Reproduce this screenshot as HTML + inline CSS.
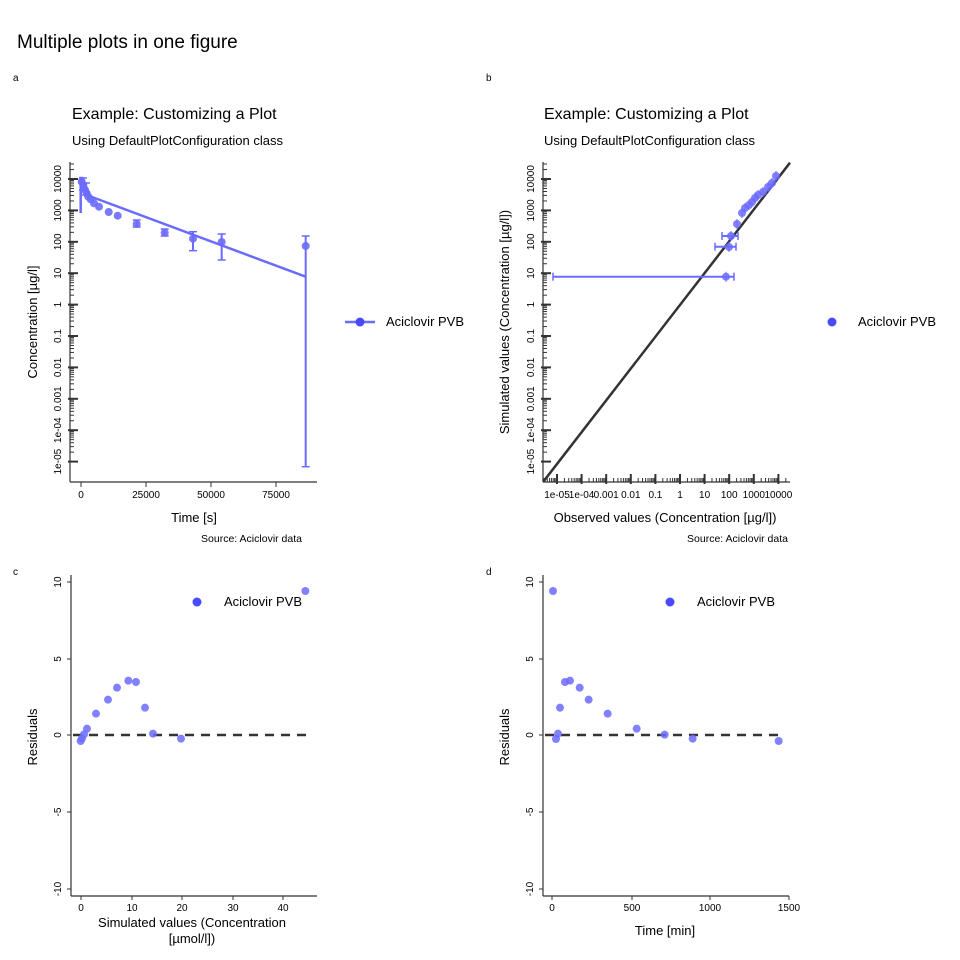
<!DOCTYPE html>
<html><head><meta charset="utf-8"><style>
body{margin:0;background:#fff}
svg{display:block;font-family:"Liberation Sans",sans-serif}
</style></head><body>
<svg id="s" width="960" height="960" xmlns="http://www.w3.org/2000/svg">
<text x="17" y="48" font-size="19">Multiple plots in one figure</text>
<text x="13" y="81" font-size="10">a</text>
<text x="486" y="81" font-size="10">b</text>
<text x="13" y="575" font-size="10">c</text>
<text x="486" y="575" font-size="10">d</text>
<text x="72" y="119" font-size="16">Example: Customizing a Plot</text>
<text x="72" y="145" font-size="13">Using DefaultPlotConfiguration class</text>
<text x="544" y="119" font-size="16">Example: Customizing a Plot</text>
<text x="544" y="145" font-size="13">Using DefaultPlotConfiguration class</text>
<text x="194" y="522" font-size="13" text-anchor="middle">Time [s]</text>
<text x="302" y="542" font-size="10.5" text-anchor="end">Source: Aciclovir data</text>
<text x="665" y="522" font-size="13" text-anchor="middle">Observed values (Concentration [µg/l])</text>
<text x="788" y="542" font-size="10.5" text-anchor="end">Source: Aciclovir data</text>
<text transform="translate(37,322) rotate(-90)" font-size="13" text-anchor="middle">Concentration [µg/l]</text>
<text transform="translate(509,322) rotate(-90)" font-size="13" text-anchor="middle">Simulated values (Concentration [µg/l])</text>
<text transform="translate(37,737) rotate(-90)" font-size="13" text-anchor="middle">Residuals</text>
<text transform="translate(509,737) rotate(-90)" font-size="13" text-anchor="middle">Residuals</text>
<text x="192" y="927" font-size="13" text-anchor="middle">Simulated values (Concentration</text>
<text x="192" y="943" font-size="13" text-anchor="middle">[µmol/l])</text>
<text x="665" y="935" font-size="13" text-anchor="middle">Time [min]</text>
<g id="g"></g>
</svg>
<script>
const g=document.getElementById('g');let h='';
const C='#6b6bff',K='#333';
function L(x1,y1,x2,y2,c,w,e){h+=`<line x1="${x1}" y1="${y1}" x2="${x2}" y2="${y2}" stroke="${c}" stroke-width="${w}" ${e||''}/>`;}
function T(x,y,s,a,r,fs){fs=fs||10;if(r)h+=`<text transform="translate(${x},${y}) rotate(-90)" font-size="${fs}" text-anchor="middle">${s}</text>`;else h+=`<text x="${x}" y="${y}" font-size="${fs}" text-anchor="${a||'middle'}">${s}</text>`;}
function D(x,y,r,c,o){h+=`<circle cx="${x}" cy="${y}" r="${r||4.5}" fill="${c||C}" opacity="${o||0.85}"/>`;}
const ylab=['10000','1000','100','10','1','0.1','0.01','0.001','1e-04','1e-05'];
function logY(ax,ybase){
 L(ax,162,ax,482,K,1.2);
 for(let d=-1;d<10;d++){let y0=ybase+d*31.4;
  if(d>=0){L(ax-2,y0,ax+8,y0,K,2);T(ax-9,y0,ylab[d],0,1,10);}
  for(let k=2;k<10;k++){let y=y0-Math.log10(k)*31.4;if(y>162&&y<481)L(ax,y,ax+4,y,K,1);}
 }
}
logY(70,179);
L(70,482,317,482,K,1.2);
[[81,'0'],[146,'25000'],[211,'50000'],[276,'75000']].forEach(t=>{L(t[0],482,t[0],487,K,1);T(t[0],498,t[1],0,0,10);});
h+=`<polyline points="80.7,213 80.7,178 82.3,178 90,196 92,197 305.7,276.7" fill="none" stroke="${C}" stroke-width="2.5"/>`;
[[193,231.7,250.7],[221.7,234,260],[305.7,236,466.7],[136.7,220,227],[164.7,229,236],[83,178,190],[86,183,195]].forEach(e=>{L(e[0],e[1],e[0],e[2],C,2);L(e[0]-4,e[1],e[0]+4,e[1],C,1.5);L(e[0]-4,e[2],e[0]+4,e[2],C,1.5);});
[[81.7,181.7],[83.3,185],[85,190],[86.7,193.3],[88.3,196.7],[90.7,199.3],[94,203.3],[99,206.7],[108.7,212],[117.7,215.7],[136.7,224],[164.7,232.7],[193,238.7],[221.7,242],[305.7,246]].forEach(p=>D(p[0],p[1],4,C,0.9));
L(345,322,375,322,C,2.5);D(360,322,4.5,'#4a4aff',1);T(386,326,'Aciclovir PVB','start',0,13);
logY(543,179);
L(543,482,790,482,K,1.2);
const xl=['1e-05','1e-04','0.001','0.01','0.1','1','10','100','1000','10000'];
for(let d=-1;d<10;d++){let x0=557+d*24.6;
 if(d>=0){L(x0,484,x0,474,K,2);T(x0,498,xl[d],0,0,10);}
 for(let k=2;k<10;k++){let x=x0+Math.log10(k)*24.6;if(x>543&&x<789)L(x,482,x,478,K,1);}
}
L(543.3,481.7,790,162.7,K,2.5);
[[276.7,553,734],[246.7,715,736],[236,722,738]].forEach(e=>{L(e[1],e[0],e[2],e[0],C,2);L(e[1],e[0]-4,e[1],e[0]+4,C,1.5);L(e[2],e[0]-4,e[2],e[0]+4,C,1.5);});
[[776,176],[772,183],[768,187],[763,192],[758,195],[755,198],[752,202],[749,205],[745,208],[742,213],[737,224],[731,236],[729,247],[726,276.7]].forEach(p=>{L(p[0],p[1]-5,p[0],p[1]+5,C,1);D(p[0],p[1],4,C,0.85);});
D(832,322,4.5,'#4a4aff',1);T(858,326,'Aciclovir PVB','start',0,13);
function res(ax,xt,pts,lx){
 L(ax,575,ax,896,K,1.2);L(ax,896,ax+246,896,K,1.2);
 [[582,'10'],[659,'5'],[735,'0'],[812,'-5'],[889,'-10']].forEach(t=>{L(ax-4,t[0],ax,t[0],K,1);T(ax-10,t[0],t[1],0,1,10);});
 xt.forEach(t=>{L(t[0],896,t[0],900,K,1);T(t[0],911,t[1],0,0,10);});
 L(ax+2,735,ax+238,735,K,2.5,'stroke-dasharray="9,7"');
 pts.forEach(p=>D(p[0],p[1],4,C,0.85));
 D(lx,602,4.5,'#4a4aff',1);T(lx+27,606,'Aciclovir PVB','start',0,13);
}
const cz=[[182,543],[186,535],[192,523],[201,506],[228,461],[264,419],[291,383],[325,362],[348,366],[375,443],[399,521],[483,536],[856,93]];
res(71,[[81,'0'],[132,'10'],[182,'20'],[233,'30'],[283,'40']],cz.map(p=>[20+p[0]/3,560+p[1]/3]),197);
const dz=[[189,93],[198,537],[204,521],[210,443],[225,366],[240,362],[269,383],[296,419],[353,461],[440,506],[524,524],[608,536],[866,543]];
res(543,[[552,'0'],[632,'500'],[710,'1000'],[789,'1500']],dz.map(p=>[490+p[0]/3,560+p[1]/3]),670);
g.innerHTML=h;
</script>
</body></html>
